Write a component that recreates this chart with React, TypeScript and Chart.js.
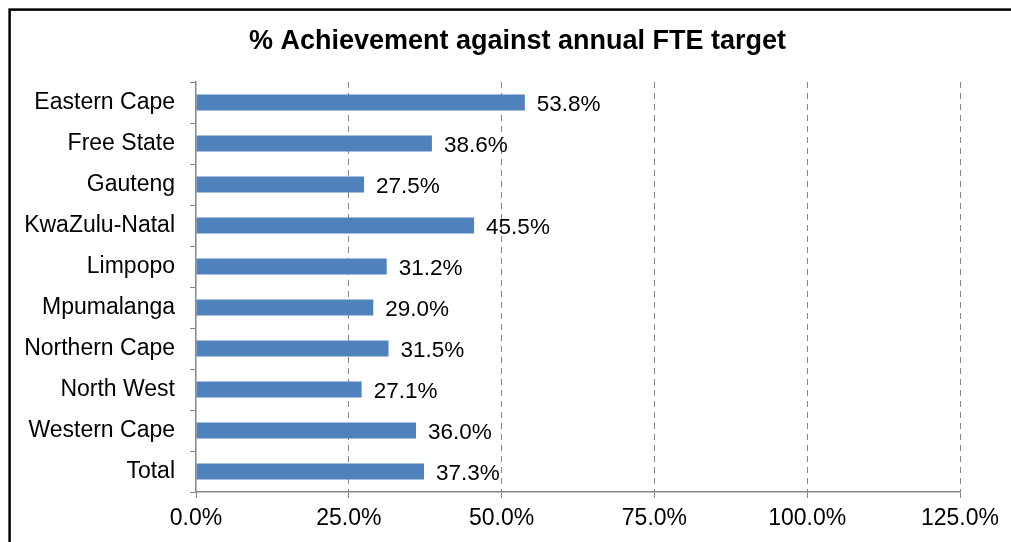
import React, { useEffect, useRef } from "react";
import { Chart, registerables } from "chart.js";

Chart.register(...registerables);

const categories = [
  "Eastern Cape",
  "Free State",
  "Gauteng",
  "KwaZulu-Natal",
  "Limpopo",
  "Mpumalanga",
  "Northern Cape",
  "North West",
  "Western Cape",
  "Total",
];
const achievement = [53.8, 38.6, 27.5, 45.5, 31.2, 29.0, 31.5, 27.1, 36.0, 37.3];
const xTickMin = 0;
const xTickMax = 125;
const xTickStep = 25;
const titleText = "% Achievement against annual FTE target";

const FONT = "'Liberation Sans', Arial, sans-serif";
const AXIS_GRAY = "#868686";

const framePlugin = {
  id: "frame",
  afterDraw(chart: any) {
    const ctx = chart.ctx;
    ctx.save();
    ctx.strokeStyle = "#000";
    ctx.lineWidth = 2.5;
    ctx.strokeRect(9.6, 9.6, 2000, 2000);
    ctx.font = `bold 27px ${FONT}`;
    ctx.fillStyle = "#000";
    ctx.textAlign = "center";
    ctx.textBaseline = "middle";
    ctx.fillText(titleText, 517.5, 42);
    ctx.restore();
  },
};

const valueLabelPlugin = {
  id: "valueLabels",
  afterDatasetsDraw(chart: any) {
    const ctx = chart.ctx;
    const meta = chart.getDatasetMeta(0);
    ctx.save();
    ctx.font = `22.5px ${FONT}`;
    ctx.fillStyle = "#000";
    ctx.textAlign = "left";
    ctx.textBaseline = "middle";
    meta.data.forEach((bar: any, i: number) => {
      const v = chart.data.datasets[0].data[i] as number;
      ctx.fillText(v.toFixed(1) + "%", bar.x + 12, bar.y + 2);
    });
    ctx.restore();
  },
};

export default function App() {
  const ref = useRef<HTMLCanvasElement | null>(null);

  useEffect(() => {
    if (!ref.current) return;
    const chart = new Chart(ref.current, {
      type: "bar",
      data: {
        labels: categories,
        datasets: [
          {
            data: achievement,
            backgroundColor: "#4F81BD",
            borderWidth: 0,
            barPercentage: 0.39,
            categoryPercentage: 1,
          },
        ],
      },
      options: {
        indexAxis: "y",
        animation: false,
        responsive: false,
        maintainAspectRatio: false,
        layout: { padding: { left: 0, right: 51, top: 82, bottom: 0 } },
        plugins: {
          legend: { display: false },
          tooltip: { enabled: false },
          title: { display: false },
        },
        scales: {
          x: {
            min: xTickMin,
            max: xTickMax,
            ticks: {
              stepSize: xTickStep,
              color: "#000",
              font: { family: FONT, size: 23 },
              padding: 7,
              callback: (v: any) => Number(v).toFixed(1) + "%",
            },
            grid: {
              color: (ctx: any) => (ctx.index === 0 ? "rgba(0,0,0,0)" : AXIS_GRAY),
              tickColor: AXIS_GRAY,
              lineWidth: 1,
              tickLength: 6,
              drawTicks: true,
              tickBorderDash: [],
            },
            border: { display: true, color: AXIS_GRAY, width: 1.5, dash: [6, 5] },
            afterFit: (scale: any) => {
              scale.height = 50;
            },
          },
          y: {
            ticks: {
              color: "#000",
              font: { family: FONT, size: 23 },
              padding: 15,
              autoSkip: false,
            },
            grid: {
              drawOnChartArea: false,
              drawTicks: true,
              tickLength: 6,
              color: AXIS_GRAY,
              tickColor: AXIS_GRAY,
              offset: true,
            },
            border: { display: true, color: AXIS_GRAY, width: 1.5 },
            afterFit: (scale: any) => {
              scale.width = 196;
            },
          },
        },
      },
      plugins: [valueLabelPlugin, framePlugin],
    });
    return () => chart.destroy();
  }, []);

  return (
    <div style={{ position: "fixed", left: 0, top: 0, width: 1011, height: 542, background: "#fff" }}>
      <canvas ref={ref} width={1011} height={542} style={{ display: "block", width: 1011, height: 542 }} />
    </div>
  );
}
